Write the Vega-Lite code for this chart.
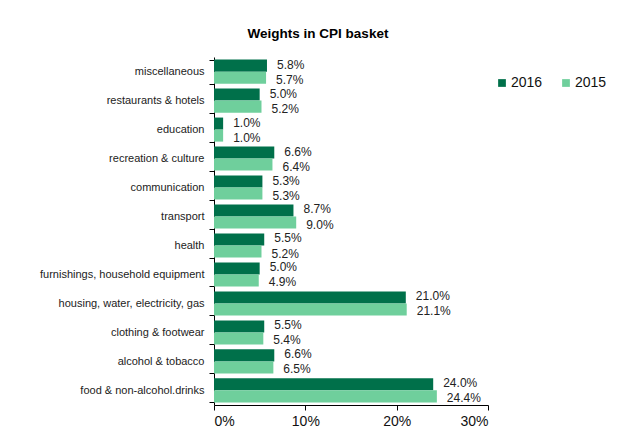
{
  "$schema": "https://vega.github.io/schema/vega-lite/v6.json",
  "width": 274,
  "height": 348,
  "autosize": {"type": "none"},
  "padding": {"left": 214, "top": 57, "right": 155, "bottom": 38},
  "background": "white",
  "title": {"text": "Weights in CPI basket", "anchor": "middle", "dx": -33, "offset": 11, "font": "Liberation Sans", "fontSize": 13.5, "fontWeight": "bold", "color": "#000"},
  "config": {"view": {"stroke": null}, "font": "Liberation Sans"},
  "data": {"values": [
    {"cat": "miscellaneous", "year": "2016", "v": 0.058},
    {"cat": "miscellaneous", "year": "2015", "v": 0.057},
    {"cat": "restaurants & hotels", "year": "2016", "v": 0.050},
    {"cat": "restaurants & hotels", "year": "2015", "v": 0.052},
    {"cat": "education", "year": "2016", "v": 0.010},
    {"cat": "education", "year": "2015", "v": 0.010},
    {"cat": "recreation & culture", "year": "2016", "v": 0.066},
    {"cat": "recreation & culture", "year": "2015", "v": 0.064},
    {"cat": "communication", "year": "2016", "v": 0.053},
    {"cat": "communication", "year": "2015", "v": 0.053},
    {"cat": "transport", "year": "2016", "v": 0.087},
    {"cat": "transport", "year": "2015", "v": 0.090},
    {"cat": "health", "year": "2016", "v": 0.055},
    {"cat": "health", "year": "2015", "v": 0.052},
    {"cat": "furnishings, household equipment", "year": "2016", "v": 0.050},
    {"cat": "furnishings, household equipment", "year": "2015", "v": 0.049},
    {"cat": "housing, water, electricity, gas", "year": "2016", "v": 0.210},
    {"cat": "housing, water, electricity, gas", "year": "2015", "v": 0.211},
    {"cat": "clothing & footwear", "year": "2016", "v": 0.055},
    {"cat": "clothing & footwear", "year": "2015", "v": 0.054},
    {"cat": "alcohol & tobacco", "year": "2016", "v": 0.066},
    {"cat": "alcohol & tobacco", "year": "2015", "v": 0.065},
    {"cat": "food & non-alcohol.drinks", "year": "2016", "v": 0.240},
    {"cat": "food & non-alcohol.drinks", "year": "2015", "v": 0.244}
  ]},
  "encoding": {
    "y": {"field": "cat", "type": "nominal", "sort": null,
      "scale": {"paddingInner": 0.17, "paddingOuter": 0.09},
      "axis": {"title": null, "tickBand": "extent", "domainColor": "#000", "tickColor": "#000", "tickSize": 5, "labelFontSize": 11, "labelColor": "#222", "labelPadding": 5, "labelFont": "Liberation Sans"}},
    "yOffset": {"field": "year", "type": "nominal", "sort": ["2016", "2015"]},
    "x": {"field": "v", "type": "quantitative",
      "scale": {"domain": [0, 0.3]},
      "axis": {"title": null, "format": ".0%", "values": [0, 0.1, 0.2, 0.3], "grid": false, "domainColor": "#000", "tickColor": "#000", "tickSize": 5, "labelFontSize": 14, "labelColor": "#111", "labelPadding": 4, "labelFont": "Liberation Sans"}}
  },
  "layer": [
    {"mark": {"type": "bar"},
     "encoding": {"color": {"field": "year", "type": "nominal",
        "scale": {"domain": ["2016", "2015"], "range": ["#00704A", "#6FCF9C"]},
        "legend": {"title": null, "orient": "none", "legendX": 281, "legendY": 19, "direction": "horizontal", "symbolType": "square", "symbolSize": 60, "symbolStrokeWidth": 0, "labelFontSize": 14, "labelColor": "#111", "columnPadding": 16, "labelOffset": 2, "labelFont": "Liberation Sans"}}}},
    {"transform": [{"filter": "datum.year == '2016'"}],
     "mark": {"type": "text", "align": "left", "dx": 10, "dy": -1, "fontSize": 12, "color": "#222", "font": "Liberation Sans"},
     "encoding": {"text": {"field": "v", "type": "quantitative", "format": ".1%"}}},
    {"transform": [{"filter": "datum.year == '2015'"}],
     "mark": {"type": "text", "align": "left", "dx": 10, "dy": 2, "fontSize": 12, "color": "#222", "font": "Liberation Sans"},
     "encoding": {"text": {"field": "v", "type": "quantitative", "format": ".1%"}}}
  ]
}
